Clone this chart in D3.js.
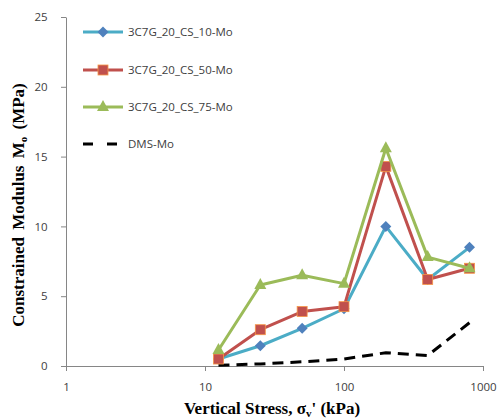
<!DOCTYPE html>
<html><head><meta charset="utf-8">
<script src="https://cdn.jsdelivr.net/npm/d3@7"></script>
<style>body{margin:0;background:#fff}</style>
</head><body><svg id="c" width="498" height="420"></svg>
<script>
const stress = [12.5, 25, 50, 100, 200, 400, 800];
const cs10 = [0.5, 1.45, 2.7, 4.1, 10.0, 6.2, 8.5];
const cs50 = [0.5, 2.6, 3.9, 4.25, 14.3, 6.2, 7.0];
const cs75 = [1.15, 5.8, 6.5, 5.9, 15.6, 7.8, 7.0];
const dms = [0.05, 0.15, 0.3, 0.5, 0.95, 0.75, 3.1];
const xTicks = [1, 10, 100, 1000];
const yTicks = [0, 5, 10, 15, 20, 25];
const names = ["3C7G_20_CS_10-Mo", "3C7G_20_CS_50-Mo", "3C7G_20_CS_75-Mo", "DMS-Mo"];

const svg = d3.select("#c");
const x = d3.scaleLog().domain([1, 1000]).range([66, 483]);
const y = d3.scaleLinear().domain([0, 25]).range([366, 17]);
const tickFont = "Open Sans, sans-serif";

// axes
const xa = svg.append("g").attr("transform", "translate(0,366)")
  .call(d3.axisBottom(x).tickValues(xTicks).tickFormat(d3.format("d")).tickSize(5).tickSizeOuter(0));
const ya = svg.append("g").attr("transform", "translate(66,0)")
  .call(d3.axisLeft(y).tickValues(yTicks).tickSize(5).tickSizeOuter(0));
[xa, ya].forEach(a => {
  a.select(".domain").attr("stroke", "#868686");
  a.selectAll(".tick line").attr("stroke", "#868686");
  a.selectAll("text").attr("fill", "#404040").style("font-family", tickFont).style("font-size", "11.5px");
});
xa.selectAll("text").attr("dy", "1.5em");
ya.selectAll("text").attr("dx", "-0.9em");

const series = [
  {v: cs10, line: "#4BACC6", mk: "diamond", fill: "#4F81BD", stroke: "#4F81BD"},
  {v: cs50, line: "#C0504D", mk: "square", fill: "#C0504D", stroke: "#F79646"},
  {v: cs75, line: "#9BBB59", mk: "triangle", fill: "#9BBB59", stroke: "#9BBB59"}
];
const line = d3.line().x(d => x(d[0])).y(d => y(d[1]));

function marker(g, type, cx, cy, s) {
  if (type === "diamond") {
    g.append("path").attr("d", `M${cx},${cy-5.5}L${cx+5.5},${cy}L${cx},${cy+5.5}L${cx-5.5},${cy}Z`)
      .attr("fill", s.fill);
  } else if (type === "square") {
    g.append("rect").attr("x", cx-5).attr("y", cy-5).attr("width", 10).attr("height", 10)
      .attr("fill", s.fill).attr("stroke", s.stroke).attr("stroke-width", 0.8);
  } else {
    g.append("path").attr("d", `M${cx},${cy-7}L${cx+6},${cy+4}L${cx-6},${cy+4}Z`).attr("fill", s.fill);
  }
}

// dms dashed
svg.append("path").datum(stress.map((s, i) => [s, dms[i]]))
  .attr("d", line).attr("fill", "none").attr("stroke", "#000")
  .attr("stroke-width", 3).attr("stroke-dasharray", "11,7");

series.forEach(s => {
  const pts = stress.map((st, i) => [st, s.v[i]]);
  svg.append("path").datum(pts).attr("d", line).attr("fill", "none")
    .attr("stroke", s.line).attr("stroke-width", 3).attr("stroke-linejoin", "round");
  const g = svg.append("g");
  pts.forEach(p => marker(g, s.mk, x(p[0]), y(p[1]), s));
});

// legend
const legY = [32, 70, 107, 144];
const lg = svg.append("g");
series.forEach((s, i) => {
  lg.append("line").attr("x1", 83).attr("x2", 123).attr("y1", legY[i]).attr("y2", legY[i])
    .attr("stroke", s.line).attr("stroke-width", 3);
  marker(lg, s.mk, 103, legY[i], s);
});
lg.append("line").attr("x1", 83).attr("x2", 120).attr("y1", legY[3]).attr("y2", legY[3])
  .attr("stroke", "#000").attr("stroke-width", 3).attr("stroke-dasharray", "10,14");
names.forEach((n, i) => {
  lg.append("text").attr("x", 128).attr("y", legY[i] + 4).text(n)
    .attr("fill", "#404040").style("font-family", tickFont).style("font-size", "11.5px");
});

// titles
const tf = "Liberation Serif, serif";
const xt = svg.append("text").attr("x", 272).attr("y", 414).attr("text-anchor", "middle")
  .style("font-family", tf).style("font-size", "17px").style("font-weight", "bold").attr("fill", "#000");
xt.append("tspan").text("Vertical Stress, σ");
xt.append("tspan").text("v").attr("font-size", "11px").attr("dy", 3);
xt.append("tspan").text("' (kPa)").attr("dy", -3);

const yt = svg.append("text").attr("transform", "translate(24,205) rotate(-90)").attr("text-anchor", "middle")
  .style("font-family", tf).style("font-size", "17px").style("font-weight", "bold").attr("fill", "#000")
  .style("word-spacing", "3px");
yt.append("tspan").text("Constrained Modulus  M");
yt.append("tspan").text("o").attr("font-size", "11px").attr("dy", 3);
yt.append("tspan").text(" (MPa)").attr("dy", -3);
</script></body></html>
